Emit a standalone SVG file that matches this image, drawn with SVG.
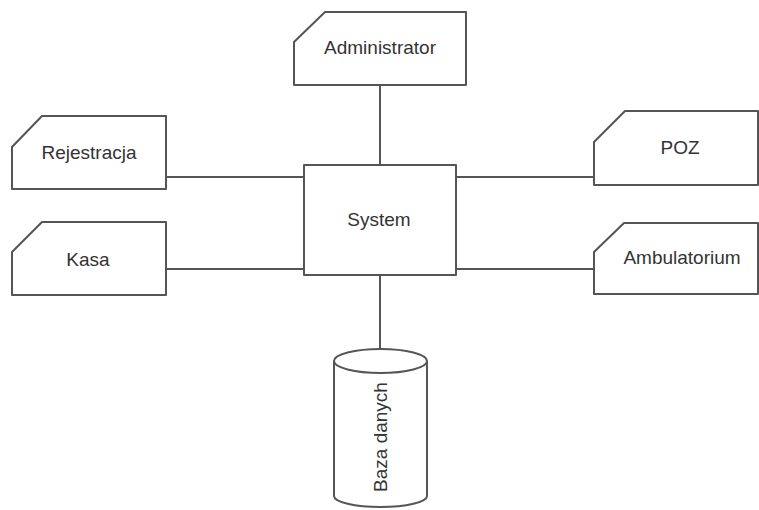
<svg xmlns="http://www.w3.org/2000/svg" width="759" height="510" viewBox="0 0 759 510">
<style>
.shape{fill:#fff;stroke:#555;stroke-width:2;stroke-linejoin:round}
.conn{fill:none;stroke:#555;stroke-width:2}
.lbl{font-family:"Liberation Sans",Arial,sans-serif;font-size:19px;fill:#333;text-anchor:middle}
</style>
<rect width="759" height="510" fill="#fff"/>
<g id="connectors">
<line class="conn" x1="380" y1="85" x2="380" y2="165"/>
<line class="conn" x1="166" y1="177" x2="304" y2="177"/>
<line class="conn" x1="166" y1="269" x2="304" y2="269"/>
<line class="conn" x1="456" y1="177" x2="594" y2="177"/>
<line class="conn" x1="456" y1="269" x2="594" y2="269"/>
<line class="conn" x1="380" y1="275" x2="380" y2="350"/>
</g>
<g id="administrator">
<path class="shape" d="M294,42 L325,12 H466 V85 H294 Z"/>
<text class="lbl" x="380" y="54">Administrator</text>
</g>
<g id="rejestracja">
<path class="shape" d="M12,147 L42,116 H166 V189 H12 Z"/>
<text class="lbl" x="89" y="159">Rejestracja</text>
</g>
<g id="kasa">
<path class="shape" d="M12,252 L42,222 H166 V295 H12 Z"/>
<text class="lbl" x="88" y="266">Kasa</text>
</g>
<g id="poz">
<path class="shape" d="M594,142 L625,111 H758 V185 H594 Z"/>
<text class="lbl" x="680" y="154">POZ</text>
</g>
<g id="ambulatorium">
<path class="shape" d="M594,252 L624,223 H758 V294 H594 Z"/>
<text class="lbl" x="682" y="264">Ambulatorium</text>
</g>
<g id="system">
<rect class="shape" x="304" y="165" width="152" height="110"/>
<text class="lbl" x="379" y="226">System</text>
</g>
<g id="baza-danych">
<path class="shape" d="M334,361 A46.5,12 0 0 1 427,361 V496 A46.5,11 0 0 1 334,496 Z"/>
<path class="conn" d="M334,361 A46.5,12 0 0 0 427,361"/>
<text class="lbl" transform="translate(387,437) rotate(-90)">Baza danych</text>
</g>
</svg>
